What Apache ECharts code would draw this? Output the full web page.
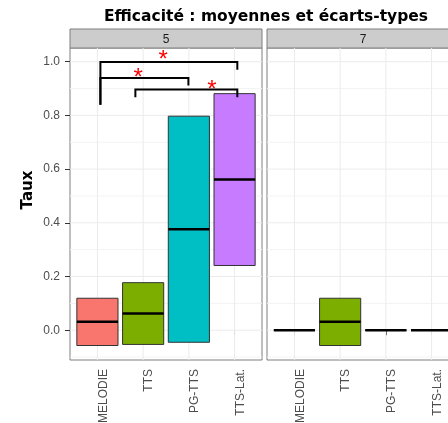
<!DOCTYPE html>
<html>
<head>
<meta charset="utf-8">
<script src="https://cdn.jsdelivr.net/npm/echarts@6/dist/echarts.min.js"></script>
<style>
  html, body { margin: 0; padding: 0; background: #fff; }
  #chart { width: 448px; height: 423px; }
</style>
</head>
<body>
<div id="chart"></div>
<script>
  // données
  const categories = ["MELODIE", "TTS", "PG-TTS", "TTS-Lat."];
  const facets = ["5", "7"];
  const colors = ["#F8766D", "#7CAE00", "#00BFC4", "#C77CFF"];
  const mean5 = [0.031, 0.062, 0.376, 0.561];
  const sd5 = [0.088, 0.115, 0.421, 0.320];
  const mean7 = [0, 0.031, 0, 0];
  const sd7 = [0, 0.088, 0, 0];
  const yTicks = [0, 0.2, 0.4, 0.6, 0.8, 1.0];
  const yMinor = [-0.1, 0.1, 0.3, 0.5, 0.7, 0.9];
  // crochets de significativité (facette 5)
  const brX1 = [1.065, 1.065, 1.83];
  const brX2 = [4.06, 2.99, 4.06];
  const brY = [0.999, 0.939, 0.896];
  const brLeftEnd = [0.840, 0.840, 0.868];
  const brRightEnd = [0.970, 0.911, 0.868];
  const starX = [2.44, 1.89, 3.505];
  const starY = [1.026, 0.962, 0.917];

  const chart = echarts.init(document.getElementById("chart"));
  const panelLeft = [70, 267];
  const panelWidth = 192;
  const stripTop = 29;
  const stripH = 19;
  const panelTop = 48;
  const panelH = 312;

  const gridData = yTicks.map(v => [0, v])
    .concat(yMinor.map(v => [1, v]))
    .concat(categories.map((c, i) => [2, i + 1]));

  function gridLines(params, api) {
    const cs = params.coordSys;
    const kind = api.value(0), v = api.value(1);
    if (kind === 2) {
      const x = api.coord([v, 0])[0];
      return { type: "line", shape: { x1: x, y1: cs.y, x2: x, y2: cs.y + cs.height },
        style: { stroke: "#EBEBEB", lineWidth: 1 } };
    }
    const y = api.coord([1, v])[1];
    return { type: "line", shape: { x1: cs.x, y1: y, x2: cs.x + cs.width, y2: y },
      style: { stroke: kind === 0 ? "#EBEBEB" : "#F3F3F3", lineWidth: 1 } };
  }

  function crossbar(params, api) {
    const x = api.value(0), m = api.value(1), s = api.value(2);
    const idx = api.value(3);
    const tl = api.coord([x - 0.45, m + s]);
    const br = api.coord([x + 0.45, m - s]);
    const mid = api.coord([x, m]);
    return {
      type: "group",
      children: [
        { type: "rect", shape: { x: tl[0], y: tl[1], width: br[0] - tl[0], height: br[1] - tl[1] },
          style: { fill: colors[idx], stroke: "#333", lineWidth: 1 } },
        { type: "line", shape: { x1: tl[0], y1: mid[1], x2: br[0], y2: mid[1] },
          style: { stroke: "#000", lineWidth: 2.5 } }
      ]
    };
  }

  function bracket(params, api) {
    const x1 = api.value(0), x2 = api.value(1), y = api.value(2);
    const pts = [
      api.coord([x1, api.value(3)]), api.coord([x1, y]),
      api.coord([x2, y]), api.coord([x2, api.value(4)])
    ];
    return { type: "polyline", shape: { points: pts },
      style: { stroke: "#000", lineWidth: 2, fill: null } };
  }

  function star(params, api) {
    const p = api.coord([api.value(0), api.value(1)]);
    return { type: "text", x: p[0], y: p[1] + 18,
      style: { text: "*", fill: "#FF0000", font: "24px 'Liberation Sans'",
        align: "center", verticalAlign: "bottom" } };
  }

  const axisText = { color: "#4D4D4D", fontSize: 12, fontFamily: "Liberation Sans" };

  const option = {
    animation: false,
    title: {
      text: "Efficacité : moyennes et écarts-types",
      left: 261, top: 4, textAlign: "center",
      textStyle: { fontFamily: "DejaVu Sans", fontWeight: "bold", fontSize: 15.5, color: "#000" }
    },
    grid: panelLeft.map(l => ({
      left: l, top: panelTop, width: panelWidth, height: panelH,
      outerBoundsMode: "none", containLabel: false,
      show: true, backgroundColor: "#fff", borderColor: "#7F7F7F", borderWidth: 1
    })),
    xAxis: facets.map((f, k) => ({
      type: "value", gridIndex: k, min: 0.4, max: 4.6,
      axisLine: { show: false },
      splitLine: { show: false },
      axisTick: { customValues: [1, 2, 3, 4], length: 5, lineStyle: { color: "#333" } },
      axisLabel: Object.assign({
        customValues: [1, 2, 3, 4], rotate: 90, margin: 9, verticalAlign: "top",
        formatter: v => categories[Math.round(v) - 1]
      }, axisText)
    })),
    yAxis: facets.map((f, k) => ({
      type: "value", gridIndex: k, min: -0.111, max: 1.051,
      axisLine: { show: false },
      splitLine: { show: false },
      axisTick: { show: k === 0, customValues: yTicks, length: 5, lineStyle: { color: "#333" } },
      axisLabel: Object.assign({
        show: k === 0, customValues: yTicks, margin: 10,
        formatter: v => v.toFixed(1)
      }, axisText)
    })),
    graphic: facets.map((f, k) => ({
      type: "group",
      children: [
        { type: "rect", shape: { x: panelLeft[k], y: stripTop, width: panelWidth, height: stripH },
          style: { fill: "#CCCCCC", stroke: "#7F7F7F", lineWidth: 1 } },
        { type: "text", x: panelLeft[k] + panelWidth / 2, y: stripTop + stripH / 2 + 1,
          style: { text: f, fill: "#1A1A1A", font: "12px 'Liberation Sans'",
            align: "center", verticalAlign: "middle" } }
      ]
    })).concat([{
      type: "text", x: 28, y: 190, rotation: Math.PI / 2,
      style: { text: "Taux", fill: "#000", font: "bold 15px 'DejaVu Sans'",
        align: "center", verticalAlign: "middle" }
    }]),
    series: [
      { type: "custom", xAxisIndex: 0, yAxisIndex: 0, silent: true, z: 1,
        renderItem: gridLines, data: gridData },
      { type: "custom", xAxisIndex: 1, yAxisIndex: 1, silent: true, z: 1,
        renderItem: gridLines, data: gridData },
      { type: "custom", xAxisIndex: 0, yAxisIndex: 0, z: 2, renderItem: crossbar,
        data: categories.map((c, i) => [i + 1, mean5[i], sd5[i], i]) },
      { type: "custom", xAxisIndex: 1, yAxisIndex: 1, z: 2, renderItem: crossbar,
        data: categories.map((c, i) => [i + 1, mean7[i], sd7[i], i]) },
      { type: "custom", xAxisIndex: 0, yAxisIndex: 0, z: 3, renderItem: bracket,
        data: brX1.map((x, i) => [x, brX2[i], brY[i], brLeftEnd[i], brRightEnd[i]]) },
      { type: "custom", xAxisIndex: 0, yAxisIndex: 0, z: 4, renderItem: star,
        data: starX.map((x, i) => [x, starY[i]]) }
    ]
  };
  chart.setOption(option);
</script>
</body>
</html>
